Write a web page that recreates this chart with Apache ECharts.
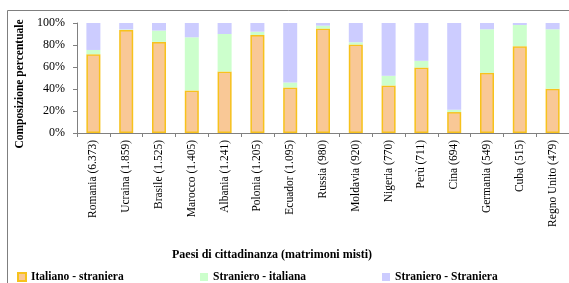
<!DOCTYPE html>
<html><head><meta charset="utf-8">
<script src="https://cdn.jsdelivr.net/npm/echarts@6/dist/echarts.min.js"></script>
<style>html,body{margin:0;padding:0;background:#fff}#c{width:569px;height:283px}</style>
</head><body><div id="c"></div>
<script>
const categories = ["Romania (6.373)","Ucraina (1.859)","Brasile (1.525)","Marocco (1.405)","Albania (1.241)","Polonia (1.205)","Ecuador (1.095)","Russia (980)","Moldavia (920)","Nigeria (770)","Perù (711)","Cina (694)","Germania (549)","Cuba (515)","Regno Unito (479)"];
const italianoStraniera = [71.6, 93.7, 82.8, 38.7, 55.9, 89.1, 41.4, 94.9, 80.4, 43.2, 59.5, 19.0, 54.7, 78.9, 40.2];
const stranieroItaliana = [3.9, 0.5, 10.3, 48.3, 34.1, 3.0, 4.5, 2.7, 2.1, 8.8, 6.1, 2.1, 39.6, 19.3, 54.1];
const stranieroStraniera = [24.5, 5.8, 6.9, 13.0, 10.0, 7.9, 54.1, 2.4, 17.5, 48.0, 34.4, 78.9, 5.7, 1.8, 5.7];
const yTicks = [0, 20, 40, 60, 80, 100];
const seriesNames = ["Italiano - straniera","Straniero - italiana","Straniero - Straniera"];

const serif = "Liberation Serif";
const chart = echarts.init(document.getElementById('c'), null, {renderer:'canvas'});
const legendText = {fontFamily: serif, fontWeight: 'bold', fontSize: 11.5, color: '#000'};
chart.setOption({
  animation: false,
  graphic: [{type:'rect', shape:{x:7.5, y:10.5, width:700, height:400}, style:{fill:'none', stroke:'#7f7f7f', lineWidth:1}, z:-1}],
  grid: {left: 77, top: 23, width: 493, height: 110, containLabel: false},
  legend: [
    {data:[seriesNames[0]], left: 12, top: 266, itemWidth: 8, itemHeight: 8, textStyle: legendText, icon:'rect'},
    {data:[seriesNames[1]], left: 195, top: 266, itemWidth: 8, itemHeight: 8, textStyle: legendText, icon:'rect'},
    {data:[seriesNames[2]], left: 377, top: 266, itemWidth: 8, itemHeight: 8, textStyle: legendText, icon:'rect'}
  ],
  xAxis: {
    type: 'category', data: categories,
    name: 'Paesi di cittadinanza (matrimoni misti)', nameLocation: 'middle', nameGap: 116,
    nameTextStyle: {fontFamily: serif, fontWeight: 'bold', fontSize: 12, color: '#000', padding:[0,102,0,0]},
    axisLine: {lineStyle: {color: '#808080'}},
    axisTick: {show: true, length: 4, lineStyle: {color: '#808080'}},
    axisLabel: {rotate: 90, interval: 0, margin: 7, fontFamily: serif, fontSize: 11.5, color: '#000'}
  },
  yAxis: {
    type: 'value', min: 0, max: 100, interval: 20,
    name: 'Composizione percentuale', nameLocation: 'middle', nameGap: 51, nameRotate: 90,
    nameTextStyle: {fontFamily: serif, fontWeight: 'bold', fontSize: 11.5, color: '#000', padding:[0,12,0,0]},
    axisLine: {show: true, lineStyle: {color: '#808080'}},
    axisTick: {show: true, length: 4, lineStyle: {color: '#808080'}},
    splitLine: {show: false},
    axisLabel: {margin: 12, fontFamily: serif, fontSize: 12, color: '#000',
      formatter: v => yTicks.includes(v) ? v + '%' : ''}
  },
  series: [
    {name: seriesNames[0], type: 'bar', stack: 't', data: italianoStraniera, barWidth: 14,
     itemStyle: {color: '#F9C896', borderColor: '#F7C21C', borderWidth: 1.5}},
    {name: seriesNames[1], type: 'bar', stack: 't', data: stranieroItaliana, barWidth: 14,
     itemStyle: {color: '#CCFFCC'}},
    {name: seriesNames[2], type: 'bar', stack: 't', data: stranieroStraniera, barWidth: 14,
     itemStyle: {color: '#CCCCFF'}}
  ]
});
</script></body></html>
